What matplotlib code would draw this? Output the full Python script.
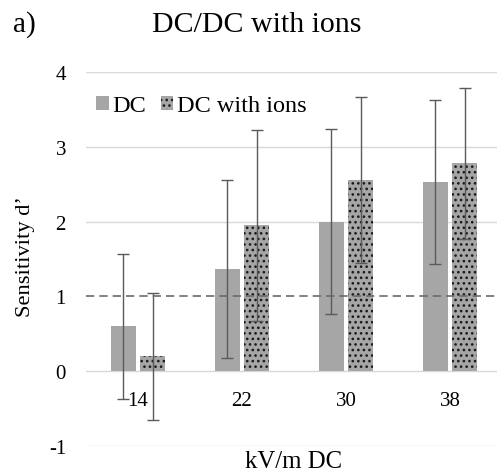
import matplotlib
matplotlib.use("Agg")
import matplotlib.pyplot as plt
import numpy as np
from matplotlib.patches import Patch

categories = ["14", "22", "30", "38"]
dc_values = [0.60, 1.36, 2.00, 2.53]
dc_errors = [0.97, 1.19, 1.24, 1.10]
ions_values = [0.20, 1.95, 2.56, 2.78]
ions_errors = [0.85, 1.28, 1.11, 1.01]
yticks = [-1, 0, 1, 2, 3, 4]

serif = "Liberation Serif"
plt.rcParams['hatch.linewidth'] = 1.1
plt.rcParams['hatch.color'] = '#1a1a1a'

fig = plt.figure(figsize=(4.97, 4.77), dpi=100)
ax = fig.add_axes([86/497, 30/477, 416/497, 374/477])
for s in ax.spines.values():
    s.set_visible(False)
ax.spines['bottom'].set_position(('data', 0))

x = np.arange(len(categories))
w = 0.245
off = 0.14
bar_color = '#A6A6A6'
hatch = '...'
ax.bar(x - off, dc_values, w, color=bar_color, zorder=3)
ax.bar(x + off, ions_values, w, color=bar_color, hatch=hatch, edgecolor='#1a1a1a', linewidth=0, zorder=3)
ax.errorbar(x - off, dc_values, yerr=dc_errors, fmt='none', ecolor='#5a5a5a', elinewidth=1, capsize=4, capthick=1, zorder=4)
ax.errorbar(x + off, ions_values, yerr=ions_errors, fmt='none', ecolor='#5a5a5a', elinewidth=1, capsize=4, capthick=1, zorder=4)

for t in yticks:
    if t != 1:
        ax.axhline(t, color='#D9D9D9', lw=1, zorder=1)
ax.axhline(1, color='#6b6b6b', lw=1.2, ls=(0, (5, 3)), zorder=5)

ax.set_xlim(-0.5, 3.5)
ax.set_ylim(-1, 4)
ax.set_yticks(yticks)
ax.set_xticks(x)
ax.tick_params(axis='both', length=0)
ax.tick_params(axis='y', pad=14.4, labelsize=15, labelfontfamily=serif)
ax.tick_params(axis='x', pad=14, labelsize=15, labelfontfamily=serif)
ax.set_yticklabels([str(t) for t in yticks])
ax.set_xticklabels(categories)

ax.set_ylabel("Sensitivity d\u2019", fontfamily=serif, fontsize=16.2)
ax.yaxis.set_label_coords(-0.123, 0.508)

fig.text(257/497, 1 - 32/477, "DC/DC with ions", fontfamily=serif, fontsize=21.5, ha='center', va='baseline')
fig.text(13/497, 1 - 32/477, "a)", fontfamily=serif, fontsize=21, ha='left', va='baseline')
fig.text(293.5/497, 1 - 462/477, "kV/m DC", fontfamily=serif, fontsize=17.8, ha='center', va='center')

handles = [Patch(facecolor=bar_color, label='DC'),
           Patch(facecolor=bar_color, hatch=hatch, edgecolor='#1a1a1a', linewidth=0, label='DC with ions')]
ax.legend(handles=handles, loc='center left', bbox_to_anchor=(0.024, (447 - 107) / 374), ncol=2, frameon=False,
          prop={'family': serif, 'size': 17.5}, handlelength=0.53, handleheight=0.53, handletextpad=0.16,
          columnspacing=0.58, borderaxespad=0, borderpad=0)

fig.savefig("out.png", dpi=100)
